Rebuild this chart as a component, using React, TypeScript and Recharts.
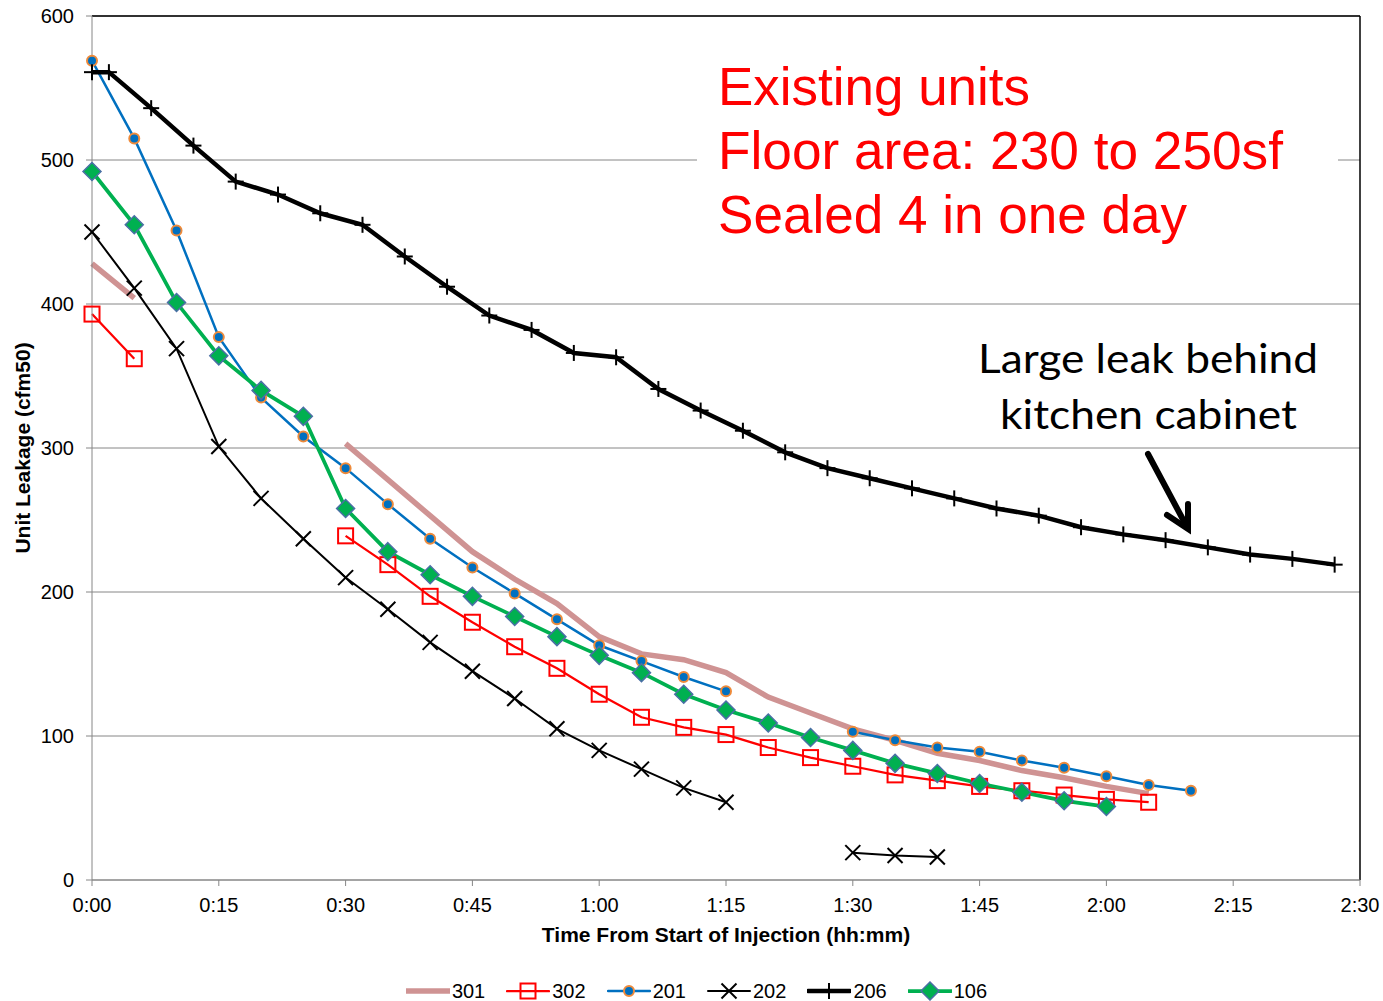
import React from 'react';
import {
  CartesianGrid,
  Legend,
  Line,
  LineChart,
  ReferenceLine,
  XAxis,
  YAxis,
} from 'recharts';

// minutes since injection started (5-minute readings)
const times = [
  0, 5, 10, 15, 20, 25, 30, 35, 40, 45, 50, 55, 60, 65, 70, 75, 80, 85, 90, 95,
  100, 105, 110, 115, 120, 125, 130,
];

// unit leakage (cfm50) per unit, null = no reading
const unit301 = [
  428, 404, null, null, null, null, 303, 278, 253, 228, 209, 192, 169, 157, 153,
  144, 127, 116, 105, 97, 88, 83, 76, 71, 65, 60, null,
];
const unit302 = [
  393, 362, null, null, null, null, 239, 219, 197, 179, 162, 147, 129, 113, 106,
  101, 92, 85, 79, 73, 69, 65, 62, 59, 56, 54, null,
];
const unit201 = [
  569, 515, 451, 377, 335, 308, 286, 261, 237, 217, 199, 181, 163, 152, 141,
  131, null, null, 103, 97, 92, 89, 83, 78, 72, 66, 62,
];
const unit202 = [
  450, 411, 369, 301, 265, 237, 210, 188, 165, 145, 126, 105, 90, 77, 64, 54,
  null, null, 19, 17, 16, null, null, null, null, null, null,
];
const unit106 = [
  492, 455, 401, 364, 340, 322, 258, 228, 212, 197, 183, 169, 156, 144, 129,
  118, 109, 99, 90, 81, 74, 67, 61, 55, 51, null, null,
];

// unit 206 was logged on its own clock
const times206 = [
  0, 2, 7, 12, 17, 22, 27, 32, 37, 42, 47, 52, 57, 62, 67, 72, 77, 82, 87, 92,
  97, 102, 107, 112, 117, 122, 127, 132, 137, 142, 147,
];
const unit206 = [
  561, 561, 536, 510, 485, 476, 463, 455, 433, 412, 392, 382, 366, 363, 341,
  326, 312, 297, 286, 279, 272, 265, 258, 253, 245, 240, 236, 231, 226, 223, 219,
];

const xTicks = [0, 15, 30, 45, 60, 75, 90, 105, 120, 135, 150];
const yTicks = [0, 100, 200, 300, 400, 500, 600];

const toRows = (t: number[], v: (number | null)[]) =>
  t.map((m, i) => ({ t: m, v: v[i] }));

const fmtTime = (m: number) =>
  `${Math.floor(m / 60)}:${String(m % 60).padStart(2, '0')}`;

const GRID = '#868686';
const FONT = '"Liberation Sans", Arial, sans-serif';

type Shape = 'none' | 'square' | 'circle' | 'cross' | 'plus' | 'diamond';

const marker = (shape: Shape, cx: number, cy: number, key?: React.Key) => {
  switch (shape) {
    case 'square':
      return (
        <rect key={key} x={cx - 7.5} y={cy - 7.5} width={15} height={15}
          fill="none" stroke="#FF0000" strokeWidth={2} />
      );
    case 'circle':
      return (
        <circle key={key} cx={cx} cy={cy} r={5} fill="#0070C0"
          stroke="#EE8A3A" strokeWidth={2} />
      );
    case 'cross':
      return (
        <g key={key} stroke="#000" strokeWidth={2}>
          <line x1={cx - 7.5} y1={cy - 7.5} x2={cx + 7.5} y2={cy + 7.5} />
          <line x1={cx - 7.5} y1={cy + 7.5} x2={cx + 7.5} y2={cy - 7.5} />
        </g>
      );
    case 'plus':
      return (
        <g key={key} stroke="#000" strokeWidth={2}>
          <line x1={cx - 8} y1={cy} x2={cx + 8} y2={cy} />
          <line x1={cx} y1={cy - 8} x2={cx} y2={cy + 8} />
        </g>
      );
    case 'diamond':
      return (
        <polygon key={key}
          points={`${cx},${cy - 9} ${cx + 9},${cy} ${cx},${cy + 9} ${cx - 9},${cy}`}
          fill="#00B050" stroke="#4A6FA5" strokeWidth={1.5} />
      );
    default:
      return <g key={key} />;
  }
};

const dotOf = (shape: Shape) => (p: any) => {
  if (p.cx == null || p.cy == null || p.value == null) return <g key={p.index} />;
  return marker(shape, p.cx, p.cy, p.index);
};

const series = [
  { name: '301', data: toRows(times, unit301), color: '#CF9393', width: 5.5, shape: 'none' as Shape },
  { name: '302', data: toRows(times, unit302), color: '#FF0000', width: 2.25, shape: 'square' as Shape },
  { name: '201', data: toRows(times, unit201), color: '#0070C0', width: 2.5, shape: 'circle' as Shape },
  { name: '202', data: toRows(times, unit202), color: '#000000', width: 2, shape: 'cross' as Shape },
  { name: '206', data: toRows(times206, unit206), color: '#000000', width: 4.5, shape: 'plus' as Shape },
  { name: '106', data: toRows(times, unit106), color: '#00B050', width: 3.75, shape: 'diamond' as Shape },
];

const LegendBox = () => (
  <div
    style={{
      display: 'flex',
      justifyContent: 'center',
      alignItems: 'center',
      height: 28,
      paddingLeft: 54,
      marginTop: 4,
      fontFamily: FONT,
      fontSize: 20,
      color: '#000',
    }}
  >
    {series.map((s) => (
      <div key={s.name} style={{ display: 'flex', alignItems: 'center', marginRight: 21 }}>
        <svg width={44} height={20} style={{ marginRight: 2 }}>
          <line x1={1} y1={10} x2={43} y2={10} stroke={s.color}
            strokeWidth={s.width} strokeLinecap="round" />
          {marker(s.shape, 22, 10)}
        </svg>
        <span>{s.name}</span>
      </div>
    ))}
  </div>
);

const Notes = () => (
  <svg
    width={1383}
    height={1001}
    style={{ position: 'absolute', left: 0, top: 0, pointerEvents: 'none' }}
  >
    <rect x={697} y={48} width={641} height={208} fill="#fff" />
    <g fill="#FF0000" fontFamily={FONT} fontSize={53}>
      <text x={718} y={105} textLength={312} lengthAdjust="spacingAndGlyphs">
        Existing units
      </text>
      <text x={718} y={169} textLength={565} lengthAdjust="spacingAndGlyphs">
        Floor area: 230 to 250sf
      </text>
      <text x={718} y={233} textLength={469} lengthAdjust="spacingAndGlyphs">
        Sealed 4 in one day
      </text>
    </g>
    <g fill="#000" fontFamily="Lato, sans-serif" fontSize={41}>
      <text x={978} y={373} textLength={340} lengthAdjust="spacingAndGlyphs">
        Large leak behind
      </text>
      <text x={1000} y={429} textLength={297} lengthAdjust="spacingAndGlyphs">
        kitchen cabinet
      </text>
    </g>
    <g stroke="#000" strokeWidth={6} strokeLinecap="round" fill="none">
      <line x1={1148} y1={454} x2={1187} y2={527} />
      <polyline points="1167,515 1188,529 1188,504" strokeLinejoin="miter" />
    </g>
  </svg>
);

const LeakageChart = () => (
  <div style={{ position: 'absolute', left: 0, top: 0, width: 1383, height: 1001 }}>
    <LineChart
      width={1383}
      height={1001}
      margin={{ top: 16, right: 23, bottom: 0, left: 0 }}
      style={{ overflow: 'visible' }}
    >
      <CartesianGrid stroke={GRID} vertical={false} />
      <XAxis
        dataKey="t"
        type="number"
        domain={[0, 150]}
        ticks={xTicks}
        tickFormatter={fmtTime}
        height={93}
        stroke={GRID}
        tickSize={6}
        tickMargin={12}
        interval={0}
        tick={{ fill: '#000', fontSize: 20, fontFamily: FONT }}
        allowDuplicatedCategory={false}
        label={{
          value: 'Time From Start of Injection (hh:mm)',
          position: 'insideBottom',
          offset: 31,
          style: { fill: '#000', fontSize: 21, fontWeight: 'bold', fontFamily: FONT },
        }}
      />
      <YAxis
        type="number"
        domain={[0, 600]}
        ticks={yTicks}
        width={92}
        stroke={GRID}
        tickSize={6}
        tickMargin={12}
        tick={{ fill: '#000', fontSize: 20, fontFamily: FONT }}
        label={{
          value: 'Unit Leakage (cfm50)',
          angle: -90,
          position: 'insideLeft',
          offset: 23,
          style: {
            fill: '#000',
            fontSize: 21,
            fontWeight: 'bold',
            fontFamily: FONT,
            textAnchor: 'middle',
          },
        }}
      />
      <ReferenceLine y={600} stroke="#000" strokeWidth={1.5} />
      <ReferenceLine x={150} stroke="#000" strokeWidth={1.5} />
      {series.map((s) => (
        <Line
          key={s.name}
          data={s.data}
          dataKey="v"
          name={s.name}
          stroke={s.color}
          strokeWidth={s.width}
          dot={dotOf(s.shape)}
          activeDot={false}
          connectNulls={false}
          isAnimationActive={false}
        />
      ))}
      <Legend verticalAlign="bottom" height={28} content={<LegendBox />} />
    </LineChart>
    <Notes />
  </div>
);

export default function App() {
  return <LeakageChart />;
}
